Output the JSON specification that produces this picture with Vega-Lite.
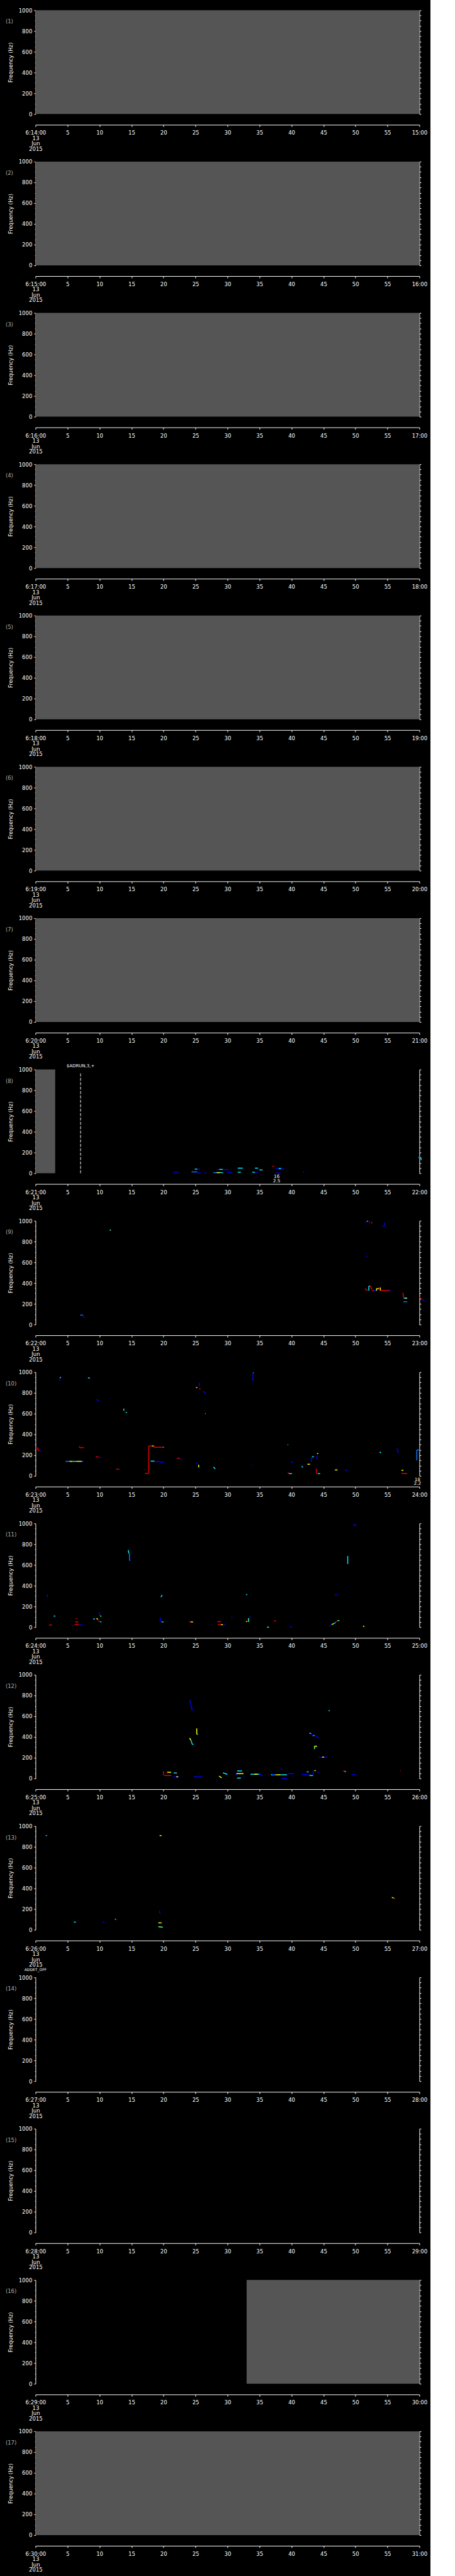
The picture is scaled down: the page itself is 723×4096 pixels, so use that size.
{
"$schema":"https://vega.github.io/schema/vega-lite/v6.json",
"background":"#000000",
"autosize":{"type":"pad"},
"padding":{"left":8.4,"top":12.35,"right":5,"bottom":5},
"spacing":75.6,
"bounds":"flush",
"config":{"view":{"stroke":null},
"axis":{"domainColor":"#ffffff","tickColor":"#ffffff","labelColor":"#ffffff","titleColor":"#ffffff","grid":false,"labelFont":"DejaVu Sans","labelFontSize":8.5,"titleFont":"DejaVu Sans","titleFontSize":8.5,"titleFontWeight":"normal","labelOverlap":false,"labelFlush":false,"domainWidth":1,"tickWidth":1},
"axisBottom":{"offset":17,"tickSize":3,"labelPadding":5.5,"labelLineHeight":8.5},
"text":{"font":"DejaVu Sans","color":"#ffffff"}},
"datasets":{
"gaps":[{"p":1,"t":0,"t2":60},{"p":2,"t":0,"t2":60},{"p":3,"t":0,"t2":60},{"p":4,"t":0,"t2":60},{"p":5,"t":0,"t2":60},{"p":6,"t":0,"t2":60},{"p":7,"t":0,"t2":60},{"p":8,"t":0,"t2":3.08},{"p":16,"t":33,"t2":60},{"p":17,"t":0,"t2":60}],
"events":[{"p":8,"t":7.05,"label":"$ADRUN,3,+"},{"p":14,"t":0,"label":"ADDET_OFF"}],
"peaks":[{"p":8,"t":37.7,"label":"16\n2.5"},{"p":10,"t":59.7,"label":"18\n2.2"}],
"segs":[
{"p":8,"t":21.6,"t2":22.3,"f":10,"f2":10,"c":"b"},
{"p":8,"t":24.4,"t2":25.3,"f":13,"f2":13,"c":"l"},
{"p":8,"t":24.9,"t2":25.3,"f":40,"f2":40,"c":"c"},
{"p":8,"t":25.3,"t2":25.7,"f":38,"f2":38,"c":"b"},
{"p":8,"t":25.3,"t2":25.9,"f":3,"f2":3,"c":"b"},
{"p":8,"t":26.4,"t2":26.7,"f":4,"f2":4,"c":"b"},
{"p":8,"t":27.8,"t2":28.3,"f":6,"f2":6,"c":"l"},
{"p":8,"t":28.3,"t2":28.9,"f":6,"f2":6,"c":"y"},
{"p":8,"t":28.9,"t2":29.3,"f":6,"f2":6,"c":"c"},
{"p":8,"t":28.3,"t2":28.7,"f":34,"f2":34,"c":"b"},
{"p":8,"t":28.7,"t2":29.3,"f":37,"f2":37,"c":"c"},
{"p":8,"t":29.3,"t2":30.2,"f":34,"f2":34,"c":"b"},
{"p":8,"t":30.0,"t2":30.7,"f":6,"f2":6,"c":"b"},
{"p":8,"t":31.6,"t2":32.4,"f":49,"f2":49,"c":"c"},
{"p":8,"t":31.6,"t2":32.1,"f":10,"f2":10,"c":"c"},
{"p":8,"t":33.9,"t2":34.3,"f":10,"f2":10,"c":"c"},
{"p":8,"t":34.3,"t2":34.8,"f":10,"f2":10,"c":"b"},
{"p":8,"t":34.3,"t2":34.8,"f":49,"f2":49,"c":"c"},
{"p":8,"t":35.0,"t2":35.5,"f":32,"f2":32,"c":"c"},
{"p":8,"t":37.0,"t2":37.3,"f":67,"f2":67,"c":"r"},
{"p":8,"t":37.6,"t2":38.0,"f":46,"f2":46,"c":"b"},
{"p":8,"t":38.0,"t2":38.4,"f":46,"f2":46,"c":"c"},
{"p":8,"t":38.4,"t2":38.9,"f":42,"f2":42,"c":"b"},
{"p":8,"t":37.5,"t2":38.3,"f":2,"f2":2,"c":"b"},
{"p":8,"t":41.8,"t2":42.0,"f":10,"f2":10,"c":"b"},
{"p":8,"t":59.8,"t2":60.2,"f":153,"f2":153,"c":"l"},
{"p":8,"t":60.2,"t2":60.3,"f":153,"f2":127,"c":"c"},
{"p":9,"t":7.0,"t2":7.4,"f":91,"f2":91,"c":"l"},
{"p":9,"t":7.5,"t2":7.5,"f":91,"f2":70,"c":"b"},
{"p":9,"t":7.5,"t2":7.65,"f":70,"f2":70,"c":"b"},
{"p":9,"t":11.6,"t2":11.8,"f":910,"f2":910,"c":"g"},
{"p":9,"t":51.5,"t2":51.8,"f":989,"f2":989,"c":"b"},
{"p":9,"t":51.8,"t2":52.0,"f":997,"f2":997,"c":"r"},
{"p":9,"t":51.85,"t2":51.95,"f":997,"f2":997,"c":"y"},
{"p":9,"t":52.2,"t2":52.2,"f":997,"f2":977,"c":"b"},
{"p":9,"t":52.5,"t2":52.6,"f":989,"f2":974,"c":"r"},
{"p":9,"t":54.2,"t2":54.6,"f":950,"f2":950,"c":"b"},
{"p":9,"t":54.6,"t2":54.6,"f":950,"f2":983,"c":"b"},
{"p":9,"t":51.8,"t2":51.8,"f":664,"f2":650,"c":"b"},
{"p":9,"t":51.5,"t2":51.9,"f":346,"f2":326,"c":"r"},
{"p":9,"t":52.1,"t2":52.1,"f":326,"f2":371,"c":"c"},
{"p":9,"t":52.1,"t2":52.3,"f":371,"f2":371,"c":"c"},
{"p":9,"t":52.3,"t2":52.6,"f":371,"f2":340,"c":"r"},
{"p":9,"t":52.6,"t2":52.9,"f":329,"f2":329,"c":"r"},
{"p":9,"t":52.9,"t2":53.3,"f":326,"f2":326,"c":"b"},
{"p":9,"t":53.3,"t2":53.3,"f":326,"f2":346,"c":"y"},
{"p":9,"t":53.3,"t2":53.7,"f":346,"f2":346,"c":"y"},
{"p":9,"t":53.7,"t2":53.7,"f":346,"f2":357,"c":"r"},
{"p":9,"t":53.9,"t2":53.9,"f":326,"f2":357,"c":"y"},
{"p":9,"t":53.9,"t2":55.4,"f":329,"f2":329,"c":"r"},
{"p":9,"t":55.2,"t2":55.5,"f":326,"f2":326,"c":"b"},
{"p":9,"t":57.4,"t2":57.6,"f":307,"f2":251,"c":"r"},
{"p":9,"t":57.6,"t2":58.1,"f":254,"f2":254,"c":"c"},
{"p":9,"t":57.8,"t2":58.0,"f":254,"f2":254,"c":"y"},
{"p":9,"t":57.5,"t2":58.1,"f":220,"f2":220,"c":"l"},
{"p":9,"t":60.0,"t2":60.4,"f":263,"f2":243,"c":"r"},
{"p":9,"t":60.5,"t2":60.8,"f":243,"f2":229,"c":"b"},
{"p":10,"t":0,"t2":0.4,"f":268,"f2":268,"c":"r"},
{"p":10,"t":0.4,"t2":0.4,"f":268,"f2":246,"c":"r"},
{"p":10,"t":0.4,"t2":0.6,"f":246,"f2":246,"c":"r"},
{"p":10,"t":0.6,"t2":0.9,"f":246,"f2":233,"c":"b"},
{"p":10,"t":3.8,"t2":3.8,"f":916,"f2":948,"c":"b"},
{"p":10,"t":3.8,"t2":4.0,"f":948,"f2":948,"c":"c"},
{"p":10,"t":8.2,"t2":8.5,"f":948,"f2":940,"c":"c"},
{"p":10,"t":9.55,"t2":9.9,"f":737,"f2":720,"c":"b"},
{"p":10,"t":13.8,"t2":13.8,"f":648,"f2":630,"c":"g"},
{"p":10,"t":13.9,"t2":14.0,"f":619,"f2":619,"c":"r"},
{"p":10,"t":14.1,"t2":14.3,"f":611,"f2":611,"c":"c"},
{"p":10,"t":4.7,"t2":5.3,"f":140,"f2":140,"c":"l"},
{"p":10,"t":5.3,"t2":5.8,"f":140,"f2":140,"c":"y"},
{"p":10,"t":5.8,"t2":6.4,"f":140,"f2":140,"c":"c"},
{"p":10,"t":6.4,"t2":7.2,"f":140,"f2":140,"c":"y"},
{"p":10,"t":7.2,"t2":7.4,"f":140,"f2":140,"c":"c"},
{"p":10,"t":7.3,"t2":7.4,"f":140,"f2":129,"c":"b"},
{"p":10,"t":6.9,"t2":6.9,"f":288,"f2":272,"c":"r"},
{"p":10,"t":6.9,"t2":7.6,"f":272,"f2":272,"c":"r"},
{"p":10,"t":9.4,"t2":9.9,"f":183,"f2":183,"c":"r"},
{"p":10,"t":9.9,"t2":10.3,"f":177,"f2":177,"c":"b"},
{"p":10,"t":12.6,"t2":13.1,"f":64,"f2":64,"c":"r"},
{"p":10,"t":17.1,"t2":17.2,"f":60,"f2":60,"c":"r"},
{"p":10,"t":17.1,"t2":17.7,"f":24,"f2":24,"c":"r"},
{"p":10,"t":17.7,"t2":17.7,"f":24,"f2":288,"c":"r"},
{"p":10,"t":17.7,"t2":18.2,"f":288,"f2":288,"c":"r"},
{"p":10,"t":18.2,"t2":18.5,"f":288,"f2":288,"c":"y"},
{"p":10,"t":18.5,"t2":18.5,"f":288,"f2":276,"c":"r"},
{"p":10,"t":18.5,"t2":20.1,"f":276,"f2":276,"c":"r"},
{"p":10,"t":19.9,"t2":20.1,"f":276,"f2":276,"c":"l"},
{"p":10,"t":18.0,"t2":18.6,"f":142,"f2":142,"c":"c"},
{"p":10,"t":18.6,"t2":19.4,"f":137,"f2":137,"c":"b"},
{"p":10,"t":19.4,"t2":20.1,"f":133,"f2":133,"c":"b"},
{"p":10,"t":22.1,"t2":22.6,"f":170,"f2":170,"c":"r"},
{"p":10,"t":22.6,"t2":22.9,"f":160,"f2":155,"c":"b"},
{"p":10,"t":25.1,"t2":25.3,"f":851,"f2":851,"c":"y"},
{"p":10,"t":25.6,"t2":25.6,"f":897,"f2":863,"c":"b"},
{"p":10,"t":25.7,"t2":25.7,"f":845,"f2":830,"c":"r"},
{"p":10,"t":26.2,"t2":26.6,"f":815,"f2":797,"c":"b"},
{"p":10,"t":26.5,"t2":26.6,"f":600,"f2":600,"c":"c"},
{"p":10,"t":25.1,"t2":25.3,"f":129,"f2":114,"c":"b"},
{"p":10,"t":25.5,"t2":25.5,"f":107,"f2":82,"c":"y"},
{"p":10,"t":27.8,"t2":28.1,"f":86,"f2":67,"c":"c"},
{"p":10,"t":33.9,"t2":33.9,"f":933,"f2":918,"c":"b"},
{"p":10,"t":34.0,"t2":34.0,"f":918,"f2":994,"c":"b"},
{"p":10,"t":34.0,"t2":34.1,"f":994,"f2":994,"c":"c"},
{"p":10,"t":33.9,"t2":34.0,"f":103,"f2":103,"c":"b"},
{"p":10,"t":39.4,"t2":39.5,"f":300,"f2":300,"c":"c"},
{"p":10,"t":39.4,"t2":39.6,"f":29,"f2":29,"c":"r"},
{"p":10,"t":39.6,"t2":40.1,"f":21,"f2":21,"c":"c"},
{"p":10,"t":39.9,"t2":40.3,"f":132,"f2":132,"c":"b"},
{"p":10,"t":41.6,"t2":41.8,"f":93,"f2":82,"c":"c"},
{"p":10,"t":42.5,"t2":42.9,"f":112,"f2":112,"c":"y"},
{"p":10,"t":43.1,"t2":43.1,"f":136,"f2":176,"c":"b"},
{"p":10,"t":43.2,"t2":43.5,"f":179,"f2":189,"c":"c"},
{"p":10,"t":44.0,"t2":44.0,"f":155,"f2":193,"c":"b"},
{"p":10,"t":44.0,"t2":44.2,"f":215,"f2":215,"c":"y"},
{"p":10,"t":43.9,"t2":43.9,"f":69,"f2":21,"c":"r"},
{"p":10,"t":44.1,"t2":44.5,"f":21,"f2":21,"c":"c"},
{"p":10,"t":46.8,"t2":47.2,"f":57,"f2":57,"c":"y"},
{"p":10,"t":48.4,"t2":48.7,"f":54,"f2":54,"c":"b"},
{"p":10,"t":53.8,"t2":54.0,"f":232,"f2":219,"c":"c"},
{"p":10,"t":56.5,"t2":56.7,"f":265,"f2":219,"c":"b"},
{"p":10,"t":57.2,"t2":57.5,"f":54,"f2":54,"c":"y"},
{"p":10,"t":57.2,"t2":58.1,"f":24,"f2":21,"c":"r"},
{"p":10,"t":59.6,"t2":59.6,"f":150,"f2":250,"c":"l"},
{"p":10,"t":59.6,"t2":60.1,"f":250,"f2":250,"c":"l"},
{"p":11,"t":1.86,"t2":1.86,"f":317,"f2":289,"c":"b"},
{"p":11,"t":2.85,"t2":3.1,"f":107,"f2":107,"c":"c"},
{"p":11,"t":2.1,"t2":2.6,"f":21,"f2":21,"c":"r"},
{"p":11,"t":6.3,"t2":6.5,"f":81,"f2":81,"c":"r"},
{"p":11,"t":6.2,"t2":6.7,"f":51,"f2":51,"c":"r"},
{"p":11,"t":5.8,"t2":6.0,"f":11,"f2":17,"c":"b"},
{"p":11,"t":6.1,"t2":6.8,"f":26,"f2":26,"c":"r"},
{"p":11,"t":6.8,"t2":7.4,"f":21,"f2":21,"c":"b"},
{"p":11,"t":9.0,"t2":9.3,"f":79,"f2":79,"c":"c"},
{"p":11,"t":9.55,"t2":9.75,"f":87,"f2":73,"c":"y"},
{"p":11,"t":9.8,"t2":10.1,"f":59,"f2":59,"c":"r"},
{"p":11,"t":10.1,"t2":10.3,"f":51,"f2":51,"c":"c"},
{"p":11,"t":10.0,"t2":10.0,"f":143,"f2":107,"c":"b"},
{"p":11,"t":10.1,"t2":10.3,"f":107,"f2":107,"c":"g"},
{"p":11,"t":14.5,"t2":14.6,"f":743,"f2":709,"c":"c"},
{"p":11,"t":14.7,"t2":14.7,"f":709,"f2":640,"c":"l"},
{"p":11,"t":14.8,"t2":14.9,"f":640,"f2":640,"c":"b"},
{"p":11,"t":19.5,"t2":19.5,"f":94,"f2":51,"c":"b"},
{"p":11,"t":19.7,"t2":20.0,"f":51,"f2":51,"c":"c"},
{"p":11,"t":19.6,"t2":19.8,"f":289,"f2":311,"c":"c"},
{"p":11,"t":24.0,"t2":24.6,"f":51,"f2":51,"c":"r"},
{"p":11,"t":24.3,"t2":24.6,"f":51,"f2":51,"c":"y"},
{"p":11,"t":28.4,"t2":29.0,"f":54,"f2":54,"c":"r"},
{"p":11,"t":28.5,"t2":29.0,"f":24,"f2":24,"c":"r"},
{"p":11,"t":29.0,"t2":29.3,"f":24,"f2":24,"c":"y"},
{"p":11,"t":29.3,"t2":29.7,"f":21,"f2":21,"c":"b"},
{"p":11,"t":30.6,"t2":30.8,"f":94,"f2":94,"c":"b"},
{"p":11,"t":32.9,"t2":33.1,"f":314,"f2":314,"c":"c"},
{"p":11,"t":32.9,"t2":33.1,"f":55,"f2":55,"c":"y"},
{"p":11,"t":33.3,"t2":33.3,"f":51,"f2":87,"c":"g"},
{"p":11,"t":33.4,"t2":33.6,"f":87,"f2":104,"c":"b"},
{"p":11,"t":37.3,"t2":37.6,"f":66,"f2":54,"c":"r"},
{"p":11,"t":36.2,"t2":36.5,"f":0,"f2":0,"c":"g"},
{"p":11,"t":39.8,"t2":40.1,"f":4,"f2":4,"c":"b"},
{"p":11,"t":46.0,"t2":46.3,"f":11,"f2":26,"c":"b"},
{"p":11,"t":46.3,"t2":46.6,"f":26,"f2":33,"c":"y"},
{"p":11,"t":46.6,"t2":46.9,"f":33,"f2":45,"c":"c"},
{"p":11,"t":46.9,"t2":47.2,"f":57,"f2":57,"c":"r"},
{"p":11,"t":47.2,"t2":47.5,"f":64,"f2":64,"c":"g"},
{"p":11,"t":46.8,"t2":47.2,"f":311,"f2":311,"c":"b"},
{"p":11,"t":48.8,"t2":48.8,"f":686,"f2":609,"c":"c"},
{"p":11,"t":49.7,"t2":49.9,"f":994,"f2":976,"c":"b"},
{"p":11,"t":49.9,"t2":50.1,"f":976,"f2":994,"c":"b"},
{"p":11,"t":51.2,"t2":51.4,"f":11,"f2":7,"c":"y"},
{"p":12,"t":24.1,"t2":24.3,"f":759,"f2":711,"c":"b"},
{"p":12,"t":24.3,"t2":24.5,"f":711,"f2":651,"c":"b"},
{"p":12,"t":25.2,"t2":25.2,"f":483,"f2":426,"c":"y"},
{"p":12,"t":25.2,"t2":25.4,"f":426,"f2":426,"c":"c"},
{"p":12,"t":24.0,"t2":24.1,"f":389,"f2":389,"c":"r"},
{"p":12,"t":24.1,"t2":24.3,"f":389,"f2":369,"c":"y"},
{"p":12,"t":24.3,"t2":24.5,"f":369,"f2":329,"c":"c"},
{"p":12,"t":24.5,"t2":24.7,"f":329,"f2":329,"c":"c"},
{"p":12,"t":20.0,"t2":20.0,"f":69,"f2":33,"c":"r"},
{"p":12,"t":20.1,"t2":21.2,"f":29,"f2":29,"c":"r"},
{"p":12,"t":20.5,"t2":20.6,"f":61,"f2":61,"c":"r"},
{"p":12,"t":20.6,"t2":21.2,"f":60,"f2":60,"c":"y"},
{"p":12,"t":21.6,"t2":22.1,"f":54,"f2":54,"c":"c"},
{"p":12,"t":21.9,"t2":22.1,"f":47,"f2":47,"c":"r"},
{"p":12,"t":21.6,"t2":22.5,"f":16,"f2":16,"c":"b"},
{"p":12,"t":22.0,"t2":22.3,"f":16,"f2":16,"c":"y"},
{"p":12,"t":25.5,"t2":25.6,"f":47,"f2":47,"c":"b"},
{"p":12,"t":24.7,"t2":26.1,"f":16,"f2":16,"c":"b"},
{"p":12,"t":28.7,"t2":29.1,"f":23,"f2":7,"c":"y"},
{"p":12,"t":29.3,"t2":30.0,"f":54,"f2":40,"c":"c"},
{"p":12,"t":31.5,"t2":32.3,"f":73,"f2":73,"c":"c"},
{"p":12,"t":31.4,"t2":32.5,"f":47,"f2":47,"c":"y"},
{"p":12,"t":31.2,"t2":31.5,"f":37,"f2":37,"c":"b"},
{"p":12,"t":31.5,"t2":32.1,"f":4,"f2":4,"c":"c"},
{"p":12,"t":32.5,"t2":32.7,"f":16,"f2":16,"c":"b"},
{"p":12,"t":33.6,"t2":35.0,"f":41,"f2":41,"c":"c"},
{"p":12,"t":34.2,"t2":34.7,"f":41,"f2":41,"c":"y"},
{"p":12,"t":35.0,"t2":35.5,"f":47,"f2":23,"c":"b"},
{"p":12,"t":36.8,"t2":37.6,"f":36,"f2":36,"c":"c"},
{"p":12,"t":37.6,"t2":38.3,"f":36,"f2":36,"c":"y"},
{"p":12,"t":38.3,"t2":39.3,"f":36,"f2":36,"c":"c"},
{"p":12,"t":37.0,"t2":37.4,"f":40,"f2":40,"c":"b"},
{"p":12,"t":38.3,"t2":38.6,"f":90,"f2":90,"c":"b"},
{"p":12,"t":38.4,"t2":39.3,"f":0,"f2":0,"c":"b"},
{"p":12,"t":39.5,"t2":40.4,"f":47,"f2":47,"c":"b"},
{"p":12,"t":40.2,"t2":40.3,"f":16,"f2":16,"c":"b"},
{"p":12,"t":41.6,"t2":42.7,"f":37,"f2":37,"c":"b"},
{"p":12,"t":42.4,"t2":42.7,"f":64,"f2":64,"c":"c"},
{"p":12,"t":42.8,"t2":43.4,"f":29,"f2":29,"c":"c"},
{"p":12,"t":43.4,"t2":43.4,"f":29,"f2":76,"c":"b"},
{"p":12,"t":43.6,"t2":43.8,"f":76,"f2":76,"c":"y"},
{"p":12,"t":44.1,"t2":44.3,"f":61,"f2":61,"c":"b"},
{"p":12,"t":42.8,"t2":43.1,"f":437,"f2":433,"c":"c"},
{"p":12,"t":43.1,"t2":43.4,"f":433,"f2":409,"c":"b"},
{"p":12,"t":43.4,"t2":43.6,"f":409,"f2":419,"c":"c"},
{"p":12,"t":43.6,"t2":43.9,"f":419,"f2":404,"c":"b"},
{"p":12,"t":43.9,"t2":44.3,"f":404,"f2":390,"c":"b"},
{"p":12,"t":43.6,"t2":43.6,"f":311,"f2":283,"c":"g"},
{"p":12,"t":43.6,"t2":44.0,"f":311,"f2":311,"c":"y"},
{"p":12,"t":44.3,"t2":45.6,"f":206,"f2":206,"c":"b"},
{"p":12,"t":44.8,"t2":45.1,"f":206,"f2":206,"c":"y"},
{"p":12,"t":45.8,"t2":46.0,"f":654,"f2":654,"c":"c"},
{"p":12,"t":48.1,"t2":48.5,"f":71,"f2":71,"c":"r"},
{"p":12,"t":48.3,"t2":48.5,"f":66,"f2":66,"c":"c"},
{"p":12,"t":49.4,"t2":50.1,"f":36,"f2":36,"c":"b"},
{"p":12,"t":57.0,"t2":57.1,"f":76,"f2":76,"c":"r"},
{"p":13,"t":1.6,"t2":1.8,"f":908,"f2":908,"c":"c"},
{"p":13,"t":19.4,"t2":19.7,"f":908,"f2":908,"c":"y"},
{"p":13,"t":6.0,"t2":6.3,"f":74,"f2":74,"c":"c"},
{"p":13,"t":10.5,"t2":10.8,"f":73,"f2":73,"c":"b"},
{"p":13,"t":12.4,"t2":12.6,"f":102,"f2":102,"c":"c"},
{"p":13,"t":19.4,"t2":19.4,"f":185,"f2":160,"c":"b"},
{"p":13,"t":19.5,"t2":19.6,"f":156,"f2":156,"c":"b"},
{"p":13,"t":19.2,"t2":19.7,"f":67,"f2":67,"c":"y"},
{"p":13,"t":19.8,"t2":19.8,"f":67,"f2":57,"c":"b"},
{"p":13,"t":19.2,"t2":19.9,"f":31,"f2":24,"c":"g"},
{"p":13,"t":55.7,"t2":56.1,"f":313,"f2":303,"c":"y"},
{"p":13,"t":55.9,"t2":56.1,"f":308,"f2":308,"c":"r"}
]},
"vconcat":[
{"width":610,"height":165,"resolve":{"axis":{"x":"independent","y":"independent"}},"layer":[
{"data":{"name":"gaps"},"transform":[{"filter":"datum.p==1"}],"mark":{"type":"rect","color":"#555555"},"encoding":{"x":{"field":"t","type":"quantitative","scale":{"domain":[0,60],"nice":false},"axis":{"title":null,"values":[0,5,10,15,20,25,30,35,40,45,50,55,60],"labelExpr":"datum.value==0?['6:14:00','13','Jun','2015']:datum.value==60?'15:00':datum.label"}},"x2":{"field":"t2"},"y":{"datum":0,"type":"quantitative","scale":{"domain":[0,1000],"nice":false},"axis":{"orient":"left","title":"Frequency  (Hz)","format":"d","values":[0,50,100,150,200,250,300,350,400,450,500,550,600,650,700,750,800,850,900,950,1000],"labelExpr":"datum.value%200==0?datum.label:''","tickSize":{"condition":{"test":"datum.value%200==0","value":2.6},"value":1.2},"labelPadding":3,"titleX":-40,"titleY":82.5,"titleAngle":270,"titleAlign":"center","titleBaseline":"middle"}},"y2":{"datum":1000}}},
{"data":{"name":"segs"},"transform":[{"filter":"datum.p==1"}],"mark":{"type":"rule","strokeWidth":1.5},"encoding":{"x":{"field":"t","type":"quantitative","axis":null},"x2":{"field":"t2"},"y":{"field":"f","type":"quantitative","axis":{"orient":"right","title":"(1)","values":[0,50,100,150,200,250,300,350,400,450,500,550,600,650,700,750,800,850,900,950,1000],"labels":false,"tickSize":2.5,"titleX":-658,"titleY":17.6,"titleAngle":0,"titleAlign":"left","titleBaseline":"middle","titleColor":"#b0b0b0"}},"y2":{"field":"f2"},"color":{"field":"c","type":"nominal","scale":{"domain":["b","l","c","g","y","r"],"range":["#0000ff","#0a78ff","#00e8ff","#40ff90","#ffff00","#e00000"]},"legend":null}}}
]},
{"width":610,"height":165,"resolve":{"axis":{"x":"independent","y":"independent"}},"layer":[
{"data":{"name":"gaps"},"transform":[{"filter":"datum.p==2"}],"mark":{"type":"rect","color":"#555555"},"encoding":{"x":{"field":"t","type":"quantitative","scale":{"domain":[0,60],"nice":false},"axis":{"title":null,"values":[0,5,10,15,20,25,30,35,40,45,50,55,60],"labelExpr":"datum.value==0?['6:15:00','13','Jun','2015']:datum.value==60?'16:00':datum.label"}},"x2":{"field":"t2"},"y":{"datum":0,"type":"quantitative","scale":{"domain":[0,1000],"nice":false},"axis":{"orient":"left","title":"Frequency  (Hz)","format":"d","values":[0,50,100,150,200,250,300,350,400,450,500,550,600,650,700,750,800,850,900,950,1000],"labelExpr":"datum.value%200==0?datum.label:''","tickSize":{"condition":{"test":"datum.value%200==0","value":2.6},"value":1.2},"labelPadding":3,"titleX":-40,"titleY":82.5,"titleAngle":270,"titleAlign":"center","titleBaseline":"middle"}},"y2":{"datum":1000}}},
{"data":{"name":"segs"},"transform":[{"filter":"datum.p==2"}],"mark":{"type":"rule","strokeWidth":1.5},"encoding":{"x":{"field":"t","type":"quantitative","axis":null},"x2":{"field":"t2"},"y":{"field":"f","type":"quantitative","axis":{"orient":"right","title":"(2)","values":[0,50,100,150,200,250,300,350,400,450,500,550,600,650,700,750,800,850,900,950,1000],"labels":false,"tickSize":2.5,"titleX":-658,"titleY":17.6,"titleAngle":0,"titleAlign":"left","titleBaseline":"middle","titleColor":"#b0b0b0"}},"y2":{"field":"f2"},"color":{"field":"c","type":"nominal","scale":{"domain":["b","l","c","g","y","r"],"range":["#0000ff","#0a78ff","#00e8ff","#40ff90","#ffff00","#e00000"]},"legend":null}}}
]},
{"width":610,"height":165,"resolve":{"axis":{"x":"independent","y":"independent"}},"layer":[
{"data":{"name":"gaps"},"transform":[{"filter":"datum.p==3"}],"mark":{"type":"rect","color":"#555555"},"encoding":{"x":{"field":"t","type":"quantitative","scale":{"domain":[0,60],"nice":false},"axis":{"title":null,"values":[0,5,10,15,20,25,30,35,40,45,50,55,60],"labelExpr":"datum.value==0?['6:16:00','13','Jun','2015']:datum.value==60?'17:00':datum.label"}},"x2":{"field":"t2"},"y":{"datum":0,"type":"quantitative","scale":{"domain":[0,1000],"nice":false},"axis":{"orient":"left","title":"Frequency  (Hz)","format":"d","values":[0,50,100,150,200,250,300,350,400,450,500,550,600,650,700,750,800,850,900,950,1000],"labelExpr":"datum.value%200==0?datum.label:''","tickSize":{"condition":{"test":"datum.value%200==0","value":2.6},"value":1.2},"labelPadding":3,"titleX":-40,"titleY":82.5,"titleAngle":270,"titleAlign":"center","titleBaseline":"middle"}},"y2":{"datum":1000}}},
{"data":{"name":"segs"},"transform":[{"filter":"datum.p==3"}],"mark":{"type":"rule","strokeWidth":1.5},"encoding":{"x":{"field":"t","type":"quantitative","axis":null},"x2":{"field":"t2"},"y":{"field":"f","type":"quantitative","axis":{"orient":"right","title":"(3)","values":[0,50,100,150,200,250,300,350,400,450,500,550,600,650,700,750,800,850,900,950,1000],"labels":false,"tickSize":2.5,"titleX":-658,"titleY":17.6,"titleAngle":0,"titleAlign":"left","titleBaseline":"middle","titleColor":"#b0b0b0"}},"y2":{"field":"f2"},"color":{"field":"c","type":"nominal","scale":{"domain":["b","l","c","g","y","r"],"range":["#0000ff","#0a78ff","#00e8ff","#40ff90","#ffff00","#e00000"]},"legend":null}}}
]},
{"width":610,"height":165,"resolve":{"axis":{"x":"independent","y":"independent"}},"layer":[
{"data":{"name":"gaps"},"transform":[{"filter":"datum.p==4"}],"mark":{"type":"rect","color":"#555555"},"encoding":{"x":{"field":"t","type":"quantitative","scale":{"domain":[0,60],"nice":false},"axis":{"title":null,"values":[0,5,10,15,20,25,30,35,40,45,50,55,60],"labelExpr":"datum.value==0?['6:17:00','13','Jun','2015']:datum.value==60?'18:00':datum.label"}},"x2":{"field":"t2"},"y":{"datum":0,"type":"quantitative","scale":{"domain":[0,1000],"nice":false},"axis":{"orient":"left","title":"Frequency  (Hz)","format":"d","values":[0,50,100,150,200,250,300,350,400,450,500,550,600,650,700,750,800,850,900,950,1000],"labelExpr":"datum.value%200==0?datum.label:''","tickSize":{"condition":{"test":"datum.value%200==0","value":2.6},"value":1.2},"labelPadding":3,"titleX":-40,"titleY":82.5,"titleAngle":270,"titleAlign":"center","titleBaseline":"middle"}},"y2":{"datum":1000}}},
{"data":{"name":"segs"},"transform":[{"filter":"datum.p==4"}],"mark":{"type":"rule","strokeWidth":1.5},"encoding":{"x":{"field":"t","type":"quantitative","axis":null},"x2":{"field":"t2"},"y":{"field":"f","type":"quantitative","axis":{"orient":"right","title":"(4)","values":[0,50,100,150,200,250,300,350,400,450,500,550,600,650,700,750,800,850,900,950,1000],"labels":false,"tickSize":2.5,"titleX":-658,"titleY":17.6,"titleAngle":0,"titleAlign":"left","titleBaseline":"middle","titleColor":"#b0b0b0"}},"y2":{"field":"f2"},"color":{"field":"c","type":"nominal","scale":{"domain":["b","l","c","g","y","r"],"range":["#0000ff","#0a78ff","#00e8ff","#40ff90","#ffff00","#e00000"]},"legend":null}}}
]},
{"width":610,"height":165,"resolve":{"axis":{"x":"independent","y":"independent"}},"layer":[
{"data":{"name":"gaps"},"transform":[{"filter":"datum.p==5"}],"mark":{"type":"rect","color":"#555555"},"encoding":{"x":{"field":"t","type":"quantitative","scale":{"domain":[0,60],"nice":false},"axis":{"title":null,"values":[0,5,10,15,20,25,30,35,40,45,50,55,60],"labelExpr":"datum.value==0?['6:18:00','13','Jun','2015']:datum.value==60?'19:00':datum.label"}},"x2":{"field":"t2"},"y":{"datum":0,"type":"quantitative","scale":{"domain":[0,1000],"nice":false},"axis":{"orient":"left","title":"Frequency  (Hz)","format":"d","values":[0,50,100,150,200,250,300,350,400,450,500,550,600,650,700,750,800,850,900,950,1000],"labelExpr":"datum.value%200==0?datum.label:''","tickSize":{"condition":{"test":"datum.value%200==0","value":2.6},"value":1.2},"labelPadding":3,"titleX":-40,"titleY":82.5,"titleAngle":270,"titleAlign":"center","titleBaseline":"middle"}},"y2":{"datum":1000}}},
{"data":{"name":"segs"},"transform":[{"filter":"datum.p==5"}],"mark":{"type":"rule","strokeWidth":1.5},"encoding":{"x":{"field":"t","type":"quantitative","axis":null},"x2":{"field":"t2"},"y":{"field":"f","type":"quantitative","axis":{"orient":"right","title":"(5)","values":[0,50,100,150,200,250,300,350,400,450,500,550,600,650,700,750,800,850,900,950,1000],"labels":false,"tickSize":2.5,"titleX":-658,"titleY":17.6,"titleAngle":0,"titleAlign":"left","titleBaseline":"middle","titleColor":"#b0b0b0"}},"y2":{"field":"f2"},"color":{"field":"c","type":"nominal","scale":{"domain":["b","l","c","g","y","r"],"range":["#0000ff","#0a78ff","#00e8ff","#40ff90","#ffff00","#e00000"]},"legend":null}}}
]},
{"width":610,"height":165,"resolve":{"axis":{"x":"independent","y":"independent"}},"layer":[
{"data":{"name":"gaps"},"transform":[{"filter":"datum.p==6"}],"mark":{"type":"rect","color":"#555555"},"encoding":{"x":{"field":"t","type":"quantitative","scale":{"domain":[0,60],"nice":false},"axis":{"title":null,"values":[0,5,10,15,20,25,30,35,40,45,50,55,60],"labelExpr":"datum.value==0?['6:19:00','13','Jun','2015']:datum.value==60?'20:00':datum.label"}},"x2":{"field":"t2"},"y":{"datum":0,"type":"quantitative","scale":{"domain":[0,1000],"nice":false},"axis":{"orient":"left","title":"Frequency  (Hz)","format":"d","values":[0,50,100,150,200,250,300,350,400,450,500,550,600,650,700,750,800,850,900,950,1000],"labelExpr":"datum.value%200==0?datum.label:''","tickSize":{"condition":{"test":"datum.value%200==0","value":2.6},"value":1.2},"labelPadding":3,"titleX":-40,"titleY":82.5,"titleAngle":270,"titleAlign":"center","titleBaseline":"middle"}},"y2":{"datum":1000}}},
{"data":{"name":"segs"},"transform":[{"filter":"datum.p==6"}],"mark":{"type":"rule","strokeWidth":1.5},"encoding":{"x":{"field":"t","type":"quantitative","axis":null},"x2":{"field":"t2"},"y":{"field":"f","type":"quantitative","axis":{"orient":"right","title":"(6)","values":[0,50,100,150,200,250,300,350,400,450,500,550,600,650,700,750,800,850,900,950,1000],"labels":false,"tickSize":2.5,"titleX":-658,"titleY":17.6,"titleAngle":0,"titleAlign":"left","titleBaseline":"middle","titleColor":"#b0b0b0"}},"y2":{"field":"f2"},"color":{"field":"c","type":"nominal","scale":{"domain":["b","l","c","g","y","r"],"range":["#0000ff","#0a78ff","#00e8ff","#40ff90","#ffff00","#e00000"]},"legend":null}}}
]},
{"width":610,"height":165,"resolve":{"axis":{"x":"independent","y":"independent"}},"layer":[
{"data":{"name":"gaps"},"transform":[{"filter":"datum.p==7"}],"mark":{"type":"rect","color":"#555555"},"encoding":{"x":{"field":"t","type":"quantitative","scale":{"domain":[0,60],"nice":false},"axis":{"title":null,"values":[0,5,10,15,20,25,30,35,40,45,50,55,60],"labelExpr":"datum.value==0?['6:20:00','13','Jun','2015']:datum.value==60?'21:00':datum.label"}},"x2":{"field":"t2"},"y":{"datum":0,"type":"quantitative","scale":{"domain":[0,1000],"nice":false},"axis":{"orient":"left","title":"Frequency  (Hz)","format":"d","values":[0,50,100,150,200,250,300,350,400,450,500,550,600,650,700,750,800,850,900,950,1000],"labelExpr":"datum.value%200==0?datum.label:''","tickSize":{"condition":{"test":"datum.value%200==0","value":2.6},"value":1.2},"labelPadding":3,"titleX":-40,"titleY":82.5,"titleAngle":270,"titleAlign":"center","titleBaseline":"middle"}},"y2":{"datum":1000}}},
{"data":{"name":"segs"},"transform":[{"filter":"datum.p==7"}],"mark":{"type":"rule","strokeWidth":1.5},"encoding":{"x":{"field":"t","type":"quantitative","axis":null},"x2":{"field":"t2"},"y":{"field":"f","type":"quantitative","axis":{"orient":"right","title":"(7)","values":[0,50,100,150,200,250,300,350,400,450,500,550,600,650,700,750,800,850,900,950,1000],"labels":false,"tickSize":2.5,"titleX":-658,"titleY":17.6,"titleAngle":0,"titleAlign":"left","titleBaseline":"middle","titleColor":"#b0b0b0"}},"y2":{"field":"f2"},"color":{"field":"c","type":"nominal","scale":{"domain":["b","l","c","g","y","r"],"range":["#0000ff","#0a78ff","#00e8ff","#40ff90","#ffff00","#e00000"]},"legend":null}}}
]},
{"width":610,"height":165,"resolve":{"axis":{"x":"independent","y":"independent"}},"layer":[
{"data":{"name":"gaps"},"transform":[{"filter":"datum.p==8"}],"mark":{"type":"rect","color":"#555555"},"encoding":{"x":{"field":"t","type":"quantitative","scale":{"domain":[0,60],"nice":false},"axis":{"title":null,"values":[0,5,10,15,20,25,30,35,40,45,50,55,60],"labelExpr":"datum.value==0?['6:21:00','13','Jun','2015']:datum.value==60?'22:00':datum.label"}},"x2":{"field":"t2"},"y":{"datum":0,"type":"quantitative","scale":{"domain":[0,1000],"nice":false},"axis":{"orient":"left","title":"Frequency  (Hz)","format":"d","values":[0,50,100,150,200,250,300,350,400,450,500,550,600,650,700,750,800,850,900,950,1000],"labelExpr":"datum.value%200==0?datum.label:''","tickSize":{"condition":{"test":"datum.value%200==0","value":2.6},"value":1.2},"labelPadding":3,"titleX":-40,"titleY":82.5,"titleAngle":270,"titleAlign":"center","titleBaseline":"middle"}},"y2":{"datum":1000}}},
{"data":{"name":"segs"},"transform":[{"filter":"datum.p==8"}],"mark":{"type":"rule","strokeWidth":1.5},"encoding":{"x":{"field":"t","type":"quantitative","axis":null},"x2":{"field":"t2"},"y":{"field":"f","type":"quantitative","axis":{"orient":"right","title":"(8)","values":[0,50,100,150,200,250,300,350,400,450,500,550,600,650,700,750,800,850,900,950,1000],"labels":false,"tickSize":2.5,"titleX":-658,"titleY":17.6,"titleAngle":0,"titleAlign":"left","titleBaseline":"middle","titleColor":"#b0b0b0"}},"y2":{"field":"f2"},"color":{"field":"c","type":"nominal","scale":{"domain":["b","l","c","g","y","r"],"range":["#0000ff","#0a78ff","#00e8ff","#40ff90","#ffff00","#e00000"]},"legend":null}}},
{"data":{"name":"events"},"transform":[{"filter":"datum.p==8"}],"mark":{"type":"rule","color":"#ffffff","strokeWidth":1,"strokeDash":[4.7,2.3]},"encoding":{"x":{"field":"t","type":"quantitative","axis":null},"y":{"datum":0,"type":"quantitative","axis":null},"y2":{"datum":976}}},
{"data":{"name":"events"},"transform":[{"filter":"datum.p==8"}],"mark":{"type":"text","fontSize":7,"dy":-5.5,"baseline":"middle","align":"center"},"encoding":{"x":{"field":"t","type":"quantitative","axis":null},"y":{"datum":1000,"type":"quantitative","axis":null},"text":{"field":"label"}}},
{"data":{"name":"peaks"},"transform":[{"filter":"datum.p==8"}],"mark":{"type":"text","fontSize":7.4,"dy":1.8,"baseline":"top","align":"center","lineBreak":"\n","lineHeight":6.8},"encoding":{"x":{"field":"t","type":"quantitative","axis":null},"y":{"datum":0,"type":"quantitative","axis":null},"text":{"field":"label"}}}
]},
{"width":610,"height":165,"resolve":{"axis":{"x":"independent","y":"independent"}},"layer":[
{"data":{"name":"gaps"},"transform":[{"filter":"datum.p==9"}],"mark":{"type":"rect","color":"#555555"},"encoding":{"x":{"field":"t","type":"quantitative","scale":{"domain":[0,60],"nice":false},"axis":{"title":null,"values":[0,5,10,15,20,25,30,35,40,45,50,55,60],"labelExpr":"datum.value==0?['6:22:00','13','Jun','2015']:datum.value==60?'23:00':datum.label"}},"x2":{"field":"t2"},"y":{"datum":0,"type":"quantitative","scale":{"domain":[0,1000],"nice":false},"axis":{"orient":"left","title":"Frequency  (Hz)","format":"d","values":[0,50,100,150,200,250,300,350,400,450,500,550,600,650,700,750,800,850,900,950,1000],"labelExpr":"datum.value%200==0?datum.label:''","tickSize":{"condition":{"test":"datum.value%200==0","value":2.6},"value":1.2},"labelPadding":3,"titleX":-40,"titleY":82.5,"titleAngle":270,"titleAlign":"center","titleBaseline":"middle"}},"y2":{"datum":1000}}},
{"data":{"name":"segs"},"transform":[{"filter":"datum.p==9"}],"mark":{"type":"rule","strokeWidth":1.5},"encoding":{"x":{"field":"t","type":"quantitative","axis":null},"x2":{"field":"t2"},"y":{"field":"f","type":"quantitative","axis":{"orient":"right","title":"(9)","values":[0,50,100,150,200,250,300,350,400,450,500,550,600,650,700,750,800,850,900,950,1000],"labels":false,"tickSize":2.5,"titleX":-658,"titleY":17.6,"titleAngle":0,"titleAlign":"left","titleBaseline":"middle","titleColor":"#b0b0b0"}},"y2":{"field":"f2"},"color":{"field":"c","type":"nominal","scale":{"domain":["b","l","c","g","y","r"],"range":["#0000ff","#0a78ff","#00e8ff","#40ff90","#ffff00","#e00000"]},"legend":null}}}
]},
{"width":610,"height":165,"resolve":{"axis":{"x":"independent","y":"independent"}},"layer":[
{"data":{"name":"gaps"},"transform":[{"filter":"datum.p==10"}],"mark":{"type":"rect","color":"#555555"},"encoding":{"x":{"field":"t","type":"quantitative","scale":{"domain":[0,60],"nice":false},"axis":{"title":null,"values":[0,5,10,15,20,25,30,35,40,45,50,55,60],"labelExpr":"datum.value==0?['6:23:00','13','Jun','2015']:datum.value==60?'24:00':datum.label"}},"x2":{"field":"t2"},"y":{"datum":0,"type":"quantitative","scale":{"domain":[0,1000],"nice":false},"axis":{"orient":"left","title":"Frequency  (Hz)","format":"d","values":[0,50,100,150,200,250,300,350,400,450,500,550,600,650,700,750,800,850,900,950,1000],"labelExpr":"datum.value%200==0?datum.label:''","tickSize":{"condition":{"test":"datum.value%200==0","value":2.6},"value":1.2},"labelPadding":3,"titleX":-40,"titleY":82.5,"titleAngle":270,"titleAlign":"center","titleBaseline":"middle"}},"y2":{"datum":1000}}},
{"data":{"name":"segs"},"transform":[{"filter":"datum.p==10"}],"mark":{"type":"rule","strokeWidth":1.5},"encoding":{"x":{"field":"t","type":"quantitative","axis":null},"x2":{"field":"t2"},"y":{"field":"f","type":"quantitative","axis":{"orient":"right","title":"(10)","values":[0,50,100,150,200,250,300,350,400,450,500,550,600,650,700,750,800,850,900,950,1000],"labels":false,"tickSize":2.5,"titleX":-658,"titleY":17.6,"titleAngle":0,"titleAlign":"left","titleBaseline":"middle","titleColor":"#b0b0b0"}},"y2":{"field":"f2"},"color":{"field":"c","type":"nominal","scale":{"domain":["b","l","c","g","y","r"],"range":["#0000ff","#0a78ff","#00e8ff","#40ff90","#ffff00","#e00000"]},"legend":null}}},
{"data":{"name":"peaks"},"transform":[{"filter":"datum.p==10"}],"mark":{"type":"text","fontSize":7.4,"dy":1.8,"baseline":"top","align":"center","lineBreak":"\n","lineHeight":6.8},"encoding":{"x":{"field":"t","type":"quantitative","axis":null},"y":{"datum":0,"type":"quantitative","axis":null},"text":{"field":"label"}}}
]},
{"width":610,"height":165,"resolve":{"axis":{"x":"independent","y":"independent"}},"layer":[
{"data":{"name":"gaps"},"transform":[{"filter":"datum.p==11"}],"mark":{"type":"rect","color":"#555555"},"encoding":{"x":{"field":"t","type":"quantitative","scale":{"domain":[0,60],"nice":false},"axis":{"title":null,"values":[0,5,10,15,20,25,30,35,40,45,50,55,60],"labelExpr":"datum.value==0?['6:24:00','13','Jun','2015']:datum.value==60?'25:00':datum.label"}},"x2":{"field":"t2"},"y":{"datum":0,"type":"quantitative","scale":{"domain":[0,1000],"nice":false},"axis":{"orient":"left","title":"Frequency  (Hz)","format":"d","values":[0,50,100,150,200,250,300,350,400,450,500,550,600,650,700,750,800,850,900,950,1000],"labelExpr":"datum.value%200==0?datum.label:''","tickSize":{"condition":{"test":"datum.value%200==0","value":2.6},"value":1.2},"labelPadding":3,"titleX":-40,"titleY":82.5,"titleAngle":270,"titleAlign":"center","titleBaseline":"middle"}},"y2":{"datum":1000}}},
{"data":{"name":"segs"},"transform":[{"filter":"datum.p==11"}],"mark":{"type":"rule","strokeWidth":1.5},"encoding":{"x":{"field":"t","type":"quantitative","axis":null},"x2":{"field":"t2"},"y":{"field":"f","type":"quantitative","axis":{"orient":"right","title":"(11)","values":[0,50,100,150,200,250,300,350,400,450,500,550,600,650,700,750,800,850,900,950,1000],"labels":false,"tickSize":2.5,"titleX":-658,"titleY":17.6,"titleAngle":0,"titleAlign":"left","titleBaseline":"middle","titleColor":"#b0b0b0"}},"y2":{"field":"f2"},"color":{"field":"c","type":"nominal","scale":{"domain":["b","l","c","g","y","r"],"range":["#0000ff","#0a78ff","#00e8ff","#40ff90","#ffff00","#e00000"]},"legend":null}}}
]},
{"width":610,"height":165,"resolve":{"axis":{"x":"independent","y":"independent"}},"layer":[
{"data":{"name":"gaps"},"transform":[{"filter":"datum.p==12"}],"mark":{"type":"rect","color":"#555555"},"encoding":{"x":{"field":"t","type":"quantitative","scale":{"domain":[0,60],"nice":false},"axis":{"title":null,"values":[0,5,10,15,20,25,30,35,40,45,50,55,60],"labelExpr":"datum.value==0?['6:25:00','13','Jun','2015']:datum.value==60?'26:00':datum.label"}},"x2":{"field":"t2"},"y":{"datum":0,"type":"quantitative","scale":{"domain":[0,1000],"nice":false},"axis":{"orient":"left","title":"Frequency  (Hz)","format":"d","values":[0,50,100,150,200,250,300,350,400,450,500,550,600,650,700,750,800,850,900,950,1000],"labelExpr":"datum.value%200==0?datum.label:''","tickSize":{"condition":{"test":"datum.value%200==0","value":2.6},"value":1.2},"labelPadding":3,"titleX":-40,"titleY":82.5,"titleAngle":270,"titleAlign":"center","titleBaseline":"middle"}},"y2":{"datum":1000}}},
{"data":{"name":"segs"},"transform":[{"filter":"datum.p==12"}],"mark":{"type":"rule","strokeWidth":1.5},"encoding":{"x":{"field":"t","type":"quantitative","axis":null},"x2":{"field":"t2"},"y":{"field":"f","type":"quantitative","axis":{"orient":"right","title":"(12)","values":[0,50,100,150,200,250,300,350,400,450,500,550,600,650,700,750,800,850,900,950,1000],"labels":false,"tickSize":2.5,"titleX":-658,"titleY":17.6,"titleAngle":0,"titleAlign":"left","titleBaseline":"middle","titleColor":"#b0b0b0"}},"y2":{"field":"f2"},"color":{"field":"c","type":"nominal","scale":{"domain":["b","l","c","g","y","r"],"range":["#0000ff","#0a78ff","#00e8ff","#40ff90","#ffff00","#e00000"]},"legend":null}}}
]},
{"width":610,"height":165,"resolve":{"axis":{"x":"independent","y":"independent"}},"layer":[
{"data":{"name":"gaps"},"transform":[{"filter":"datum.p==13"}],"mark":{"type":"rect","color":"#555555"},"encoding":{"x":{"field":"t","type":"quantitative","scale":{"domain":[0,60],"nice":false},"axis":{"title":null,"values":[0,5,10,15,20,25,30,35,40,45,50,55,60],"labelExpr":"datum.value==0?['6:26:00','13','Jun','2015']:datum.value==60?'27:00':datum.label"}},"x2":{"field":"t2"},"y":{"datum":0,"type":"quantitative","scale":{"domain":[0,1000],"nice":false},"axis":{"orient":"left","title":"Frequency  (Hz)","format":"d","values":[0,50,100,150,200,250,300,350,400,450,500,550,600,650,700,750,800,850,900,950,1000],"labelExpr":"datum.value%200==0?datum.label:''","tickSize":{"condition":{"test":"datum.value%200==0","value":2.6},"value":1.2},"labelPadding":3,"titleX":-40,"titleY":82.5,"titleAngle":270,"titleAlign":"center","titleBaseline":"middle"}},"y2":{"datum":1000}}},
{"data":{"name":"segs"},"transform":[{"filter":"datum.p==13"}],"mark":{"type":"rule","strokeWidth":1.5},"encoding":{"x":{"field":"t","type":"quantitative","axis":null},"x2":{"field":"t2"},"y":{"field":"f","type":"quantitative","axis":{"orient":"right","title":"(13)","values":[0,50,100,150,200,250,300,350,400,450,500,550,600,650,700,750,800,850,900,950,1000],"labels":false,"tickSize":2.5,"titleX":-658,"titleY":17.6,"titleAngle":0,"titleAlign":"left","titleBaseline":"middle","titleColor":"#b0b0b0"}},"y2":{"field":"f2"},"color":{"field":"c","type":"nominal","scale":{"domain":["b","l","c","g","y","r"],"range":["#0000ff","#0a78ff","#00e8ff","#40ff90","#ffff00","#e00000"]},"legend":null}}}
]},
{"width":610,"height":165,"resolve":{"axis":{"x":"independent","y":"independent"}},"layer":[
{"data":{"name":"gaps"},"transform":[{"filter":"datum.p==14"}],"mark":{"type":"rect","color":"#555555"},"encoding":{"x":{"field":"t","type":"quantitative","scale":{"domain":[0,60],"nice":false},"axis":{"title":null,"values":[0,5,10,15,20,25,30,35,40,45,50,55,60],"labelExpr":"datum.value==0?['6:27:00','13','Jun','2015']:datum.value==60?'28:00':datum.label"}},"x2":{"field":"t2"},"y":{"datum":0,"type":"quantitative","scale":{"domain":[0,1000],"nice":false},"axis":{"orient":"left","title":"Frequency  (Hz)","format":"d","values":[0,50,100,150,200,250,300,350,400,450,500,550,600,650,700,750,800,850,900,950,1000],"labelExpr":"datum.value%200==0?datum.label:''","tickSize":{"condition":{"test":"datum.value%200==0","value":2.6},"value":1.2},"labelPadding":3,"titleX":-40,"titleY":82.5,"titleAngle":270,"titleAlign":"center","titleBaseline":"middle"}},"y2":{"datum":1000}}},
{"data":{"name":"segs"},"transform":[{"filter":"datum.p==14"}],"mark":{"type":"rule","strokeWidth":1.5},"encoding":{"x":{"field":"t","type":"quantitative","axis":null},"x2":{"field":"t2"},"y":{"field":"f","type":"quantitative","axis":{"orient":"right","title":"(14)","values":[0,50,100,150,200,250,300,350,400,450,500,550,600,650,700,750,800,850,900,950,1000],"labels":false,"tickSize":2.5,"titleX":-658,"titleY":17.6,"titleAngle":0,"titleAlign":"left","titleBaseline":"middle","titleColor":"#b0b0b0"}},"y2":{"field":"f2"},"color":{"field":"c","type":"nominal","scale":{"domain":["b","l","c","g","y","r"],"range":["#0000ff","#0a78ff","#00e8ff","#40ff90","#ffff00","#e00000"]},"legend":null}}},
{"data":{"name":"events"},"transform":[{"filter":"datum.p==14"}],"mark":{"type":"text","fontSize":6,"dy":-12,"baseline":"middle","align":"center"},"encoding":{"x":{"field":"t","type":"quantitative","axis":null},"y":{"datum":1000,"type":"quantitative","axis":null},"text":{"field":"label"}}}
]},
{"width":610,"height":165,"resolve":{"axis":{"x":"independent","y":"independent"}},"layer":[
{"data":{"name":"gaps"},"transform":[{"filter":"datum.p==15"}],"mark":{"type":"rect","color":"#555555"},"encoding":{"x":{"field":"t","type":"quantitative","scale":{"domain":[0,60],"nice":false},"axis":{"title":null,"values":[0,5,10,15,20,25,30,35,40,45,50,55,60],"labelExpr":"datum.value==0?['6:28:00','13','Jun','2015']:datum.value==60?'29:00':datum.label"}},"x2":{"field":"t2"},"y":{"datum":0,"type":"quantitative","scale":{"domain":[0,1000],"nice":false},"axis":{"orient":"left","title":"Frequency  (Hz)","format":"d","values":[0,50,100,150,200,250,300,350,400,450,500,550,600,650,700,750,800,850,900,950,1000],"labelExpr":"datum.value%200==0?datum.label:''","tickSize":{"condition":{"test":"datum.value%200==0","value":2.6},"value":1.2},"labelPadding":3,"titleX":-40,"titleY":82.5,"titleAngle":270,"titleAlign":"center","titleBaseline":"middle"}},"y2":{"datum":1000}}},
{"data":{"name":"segs"},"transform":[{"filter":"datum.p==15"}],"mark":{"type":"rule","strokeWidth":1.5},"encoding":{"x":{"field":"t","type":"quantitative","axis":null},"x2":{"field":"t2"},"y":{"field":"f","type":"quantitative","axis":{"orient":"right","title":"(15)","values":[0,50,100,150,200,250,300,350,400,450,500,550,600,650,700,750,800,850,900,950,1000],"labels":false,"tickSize":2.5,"titleX":-658,"titleY":17.6,"titleAngle":0,"titleAlign":"left","titleBaseline":"middle","titleColor":"#b0b0b0"}},"y2":{"field":"f2"},"color":{"field":"c","type":"nominal","scale":{"domain":["b","l","c","g","y","r"],"range":["#0000ff","#0a78ff","#00e8ff","#40ff90","#ffff00","#e00000"]},"legend":null}}}
]},
{"width":610,"height":165,"resolve":{"axis":{"x":"independent","y":"independent"}},"layer":[
{"data":{"name":"gaps"},"transform":[{"filter":"datum.p==16"}],"mark":{"type":"rect","color":"#555555"},"encoding":{"x":{"field":"t","type":"quantitative","scale":{"domain":[0,60],"nice":false},"axis":{"title":null,"values":[0,5,10,15,20,25,30,35,40,45,50,55,60],"labelExpr":"datum.value==0?['6:29:00','13','Jun','2015']:datum.value==60?'30:00':datum.label"}},"x2":{"field":"t2"},"y":{"datum":0,"type":"quantitative","scale":{"domain":[0,1000],"nice":false},"axis":{"orient":"left","title":"Frequency  (Hz)","format":"d","values":[0,50,100,150,200,250,300,350,400,450,500,550,600,650,700,750,800,850,900,950,1000],"labelExpr":"datum.value%200==0?datum.label:''","tickSize":{"condition":{"test":"datum.value%200==0","value":2.6},"value":1.2},"labelPadding":3,"titleX":-40,"titleY":82.5,"titleAngle":270,"titleAlign":"center","titleBaseline":"middle"}},"y2":{"datum":1000}}},
{"data":{"name":"segs"},"transform":[{"filter":"datum.p==16"}],"mark":{"type":"rule","strokeWidth":1.5},"encoding":{"x":{"field":"t","type":"quantitative","axis":null},"x2":{"field":"t2"},"y":{"field":"f","type":"quantitative","axis":{"orient":"right","title":"(16)","values":[0,50,100,150,200,250,300,350,400,450,500,550,600,650,700,750,800,850,900,950,1000],"labels":false,"tickSize":2.5,"titleX":-658,"titleY":17.6,"titleAngle":0,"titleAlign":"left","titleBaseline":"middle","titleColor":"#b0b0b0"}},"y2":{"field":"f2"},"color":{"field":"c","type":"nominal","scale":{"domain":["b","l","c","g","y","r"],"range":["#0000ff","#0a78ff","#00e8ff","#40ff90","#ffff00","#e00000"]},"legend":null}}}
]},
{"width":610,"height":165,"resolve":{"axis":{"x":"independent","y":"independent"}},"layer":[
{"data":{"name":"gaps"},"transform":[{"filter":"datum.p==17"}],"mark":{"type":"rect","color":"#555555"},"encoding":{"x":{"field":"t","type":"quantitative","scale":{"domain":[0,60],"nice":false},"axis":{"title":null,"values":[0,5,10,15,20,25,30,35,40,45,50,55,60],"labelExpr":"datum.value==0?['6:30:00','13','Jun','2015']:datum.value==60?'31:00':datum.label"}},"x2":{"field":"t2"},"y":{"datum":0,"type":"quantitative","scale":{"domain":[0,1000],"nice":false},"axis":{"orient":"left","title":"Frequency  (Hz)","format":"d","values":[0,50,100,150,200,250,300,350,400,450,500,550,600,650,700,750,800,850,900,950,1000],"labelExpr":"datum.value%200==0?datum.label:''","tickSize":{"condition":{"test":"datum.value%200==0","value":2.6},"value":1.2},"labelPadding":3,"titleX":-40,"titleY":82.5,"titleAngle":270,"titleAlign":"center","titleBaseline":"middle"}},"y2":{"datum":1000}}},
{"data":{"name":"segs"},"transform":[{"filter":"datum.p==17"}],"mark":{"type":"rule","strokeWidth":1.5},"encoding":{"x":{"field":"t","type":"quantitative","axis":null},"x2":{"field":"t2"},"y":{"field":"f","type":"quantitative","axis":{"orient":"right","title":"(17)","values":[0,50,100,150,200,250,300,350,400,450,500,550,600,650,700,750,800,850,900,950,1000],"labels":false,"tickSize":2.5,"titleX":-658,"titleY":17.6,"titleAngle":0,"titleAlign":"left","titleBaseline":"middle","titleColor":"#b0b0b0"}},"y2":{"field":"f2"},"color":{"field":"c","type":"nominal","scale":{"domain":["b","l","c","g","y","r"],"range":["#0000ff","#0a78ff","#00e8ff","#40ff90","#ffff00","#e00000"]},"legend":null}}}
]}
]}
